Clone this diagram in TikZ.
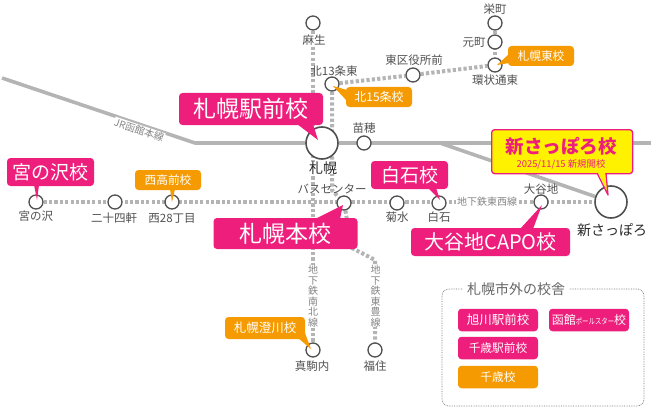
\documentclass[tikz,border=0pt]{standalone}
\usepackage{fontspec}
\usepackage{graphicx}
\setmainfont{Noto Sans CJK JP}
\usetikzlibrary{backgrounds}
\definecolor{schoolpink}{HTML}{EE1E7C}
\definecolor{schoolorange}{HTML}{F59A00}
\definecolor{linegray}{HTML}{B4B4B4}
\definecolor{labelgray}{HTML}{858585}
\definecolor{stationgray}{HTML}{505050}
\tikzset{
 station/.style={circle,draw=stationgray,fill=white,line width=1.3,inner sep=0pt,minimum size=14},
 bigstation/.style={station,line width=1.6,minimum size=32},
 stationname/.style={inner sep=0pt,text=stationgray,font=\fontsize{11.5}{12}\selectfont},
 bigname/.style={inner sep=0pt,text=black!85,font=\fontsize{14}{15}\selectfont},
 linename/.style={fill=white,inner sep=0.6pt,text=labelgray,font=\fontsize{10}{10.5}\selectfont},
 vertname/.style={linename,align=center},
 jrline/.style={draw=linegray,line width=3.6,line join=round},
 subway/.style={draw=linegray,line width=4,dash pattern=on 3.2 off 2.2},
 pinkbox/.style={fill=schoolpink,rounded corners=3.5,inner sep=0pt,text=white},
 orangebox/.style={pinkbox,fill=schoolorange},
}
\begin{document}
\begin{tikzpicture}[x=1pt,y=-1pt]
 \useasboundingbox (0,0) rectangle (651,420);

 \node [station] (Asabu)at (313,23){};
 \node [station] (Kita13)at (332,84){};
 \node [station] (Higashiku)at (413,75){};
 \node [station] (Kanjo)at (495,65){};
 \node [station] (Motomachi)at (495,42){};
 \node [station] (Sakaemachi)at (495,23){};
 \node [bigstation] (Sapporo)at (322,143){};
 \node [station] (Naebo)at (364,143){};
 \node [bigstation] (Shin)at (611,202){};
 \node [station] (Oyachi)at (541,202){};
 \node [station] (Shiroishi)at (439,203){};
 \node [station] (Kikusui)at (397,203){};
 \node [station] (Bus)at (344,203){};
 \node [station] (Nishi28)at (172,202){};
 \node [station] (Nijuyon)at (115,202){};
 \node [station] (Miyanosawa)at (36,202){};
 \node [station] (Makomanai)at (313,350){};
 \node [station] (Fukuzumi)at (375,350){};

 \coordinate (JRa) at (2,78);
 \coordinate (JRb) at (195,143);
 \coordinate (JRc) at (651,143);
 \coordinate (JRd) at (440,143);
 \coordinate (Tohoa) at (332,190);
 \coordinate (Tohob) at (352,248);
 \coordinate (Tohoc) at (375,260);

 \begin{scope}[on background layer]
 \draw[jrline] (JRa) -- (JRb) -- (Sapporo) -- (JRc);
 \draw[jrline] (JRd) -- (Shin);
 \draw[subway] (Miyanosawa) -- (Shin);
 \draw[subway] (Asabu) -- (Makomanai);
 \draw[subway] (Kita13) -- (Higashiku) -- (Kanjo);
 \draw[subway] (Sakaemachi) -- (Kanjo);
 \draw[subway] (Kita13) -- (Tohoa) -- (Bus) -- (Tohob) -- (Tohoc) -- (Fukuzumi);
 \end{scope}

 \node [stationname,fill=white] (AsabuL)at (314,40){麻生};
 \node [stationname] (Kita13L)at (334,71){北13条東};
 \node [stationname] (HigashikuL)at (414,60){東区役所前};
 \node [stationname] (KanjoL)at (495,80){環状通東};
 \node [stationname] (MotomachiL)at (474,42){元町};
 \node [stationname] (SakaemachiL)at (495,9){栄町};
 \node [bigname,fill=white] (SapporoL)at (323,168){札幌};
 \node [stationname] (NaeboL)at (364,128){苗穂};
 \node [bigname] (ShinL)at (612,230){新さっぽろ};
 \node [stationname] (OyachiL)at (541,189){大谷地};
 \node [stationname] (ShiroishiL)at (439,217){白石};
 \node [stationname] (KikusuiL)at (397,217){菊水};
 \node [stationname] (BusL)at (332,189){バスセンター};
 \node [stationname] (Nishi28L)at (172,218){西28丁目};
 \node [stationname] (NijuyonL)at (114,218){二十四軒};
 \node [stationname] (MiyanosawaL)at (36,216){宮の沢};
 \node [stationname] (MakomanaiL)at (312,366){真駒内};
 \node [stationname] (FukuzumiL)at (375,366){福住};

 \node [linename,rotate=-18.5] (JRL)at (139,130){JR函館本線};
 \node [linename] (TozaiL)at (487,202){地下鉄東西線};
 \node [vertname] (NambokuL)at (313,296){地\\下\\鉄\\南\\北\\線};
 \node [vertname] (TohoL)at (375.5,296){地\\下\\鉄\\東\\豊\\線};

 \fill[schoolpink] (297,124) -- (318,140) -- (313,124) -- cycle;
 \node [pinkbox,minimum width=144,minimum height=32,font=\fontsize{23}{24}\selectfont] (SapporoEki)at (251,109){札幌駅前校};

 \fill[schoolpink] (34,185) -- (37,200) -- (39,185) -- cycle;
 \node [pinkbox,minimum width=87,minimum height=28,font=\fontsize{19}{20}\selectfont] (MiyanosawaS)at (50.5,172){宮の沢校};

 \fill[schoolpink] (315,219) -- (343,205) -- (340,219) -- cycle;
 \node [pinkbox,minimum width=144,minimum height=31,font=\fontsize{23}{24}\selectfont] (Honko)at (285.5,233.5){札幌本校};

 \fill[schoolpink] (428,188) -- (440,200) -- (436,188) -- cycle;
 \node [pinkbox,minimum width=77,minimum height=28,font=\fontsize{19}{20}\selectfont] (ShiroishiS)at (409.5,175){白石校};

 \fill[schoolpink] (520,229) -- (542,205) -- (533,229) -- cycle;
 \node [pinkbox,minimum width=159,minimum height=28,font=\fontsize{20}{21}\selectfont] (Capo)at (490.5,242){大谷地CAPO校};

 \fill[schoolorange] (347,90) -- (333,86) -- (347,101) -- cycle;
 \node [orangebox,minimum width=66,minimum height=20,font=\fontsize{12}{13}\selectfont] (Kita15)at (379,97){北15条校};

 \fill[schoolorange] (509,54) -- (497,65) -- (509,63) -- cycle;
 \node [orangebox,minimum width=66,minimum height=20,font=\fontsize{11.7}{13}\selectfont] (HigashiS)at (541,56){札幌東校};

 \fill[schoolorange] (170,189) -- (172,202) -- (175,189) -- cycle;
 \node [orangebox,minimum width=66,minimum height=20,font=\fontsize{11.7}{13}\selectfont] (Seiko)at (168,180){西高前校};

 \fill[schoolorange] (298,338) -- (311,349) -- (305,333) -- cycle;
 \node [orangebox,minimum width=80,minimum height=22,font=\fontsize{12.5}{13}\selectfont] (Sumikawa)at (265,328){札幌澄川校};

 \node [draw=schoolpink,line width=1.3,fill=yellow,rounded corners=3,inner sep=0pt,minimum width=141,minimum height=44,anchor=north west] (ShinS)at (491,129){};
 \fill[yellow] (597.5,172) -- (608,193) -- (605.5,172) -- cycle;
 \draw[schoolpink,line width=1.3,line join=round] (597,173) -- (608,195) -- (606,173);
 \node [inner sep=0pt,text=schoolpink,font=\bfseries\fontsize{18.5}{19}\selectfont] (ShinSa)at (561,146){新さっぽろ校};
 \node [inner sep=0pt,text=schoolpink,font=\fontsize{9.4}{10}\selectfont] (ShinSb)at (561,164){2025/11/15 新規開校};

 \node [draw=black!55,line width=0.7,densely dotted,rounded corners=7,inner sep=0pt,minimum width=202,minimum height=117] (Outside)at (543,347.5){};
 \node [fill=white,inner sep=4pt,text=black!60,font=\fontsize{14}{15}\selectfont] (OutsideL)at (516,289){札幌市外の校舎};
 \node [pinkbox,minimum width=80,minimum height=22.5,font=\fontsize{12.5}{13}\selectfont] (Asahikawa)at (498,320){旭川駅前校};
 \node [pinkbox,minimum width=80,minimum height=22.5,font=\fontsize{12}{13}\selectfont] (Hakodate)at (589,320){函館\scalebox{0.8}[1]{\fontsize{8}{9}\selectfont ポールスター}校};
 \node [pinkbox,minimum width=80,minimum height=22.5,font=\fontsize{11.7}{13}\selectfont] (Chitose)at (498,348){千歳駅前校};
 \node [orangebox,minimum width=80,minimum height=22.5,font=\fontsize{11.7}{13}\selectfont] (ChitoseS)at (498,377){千歳校};
\end{tikzpicture}
\end{document}
